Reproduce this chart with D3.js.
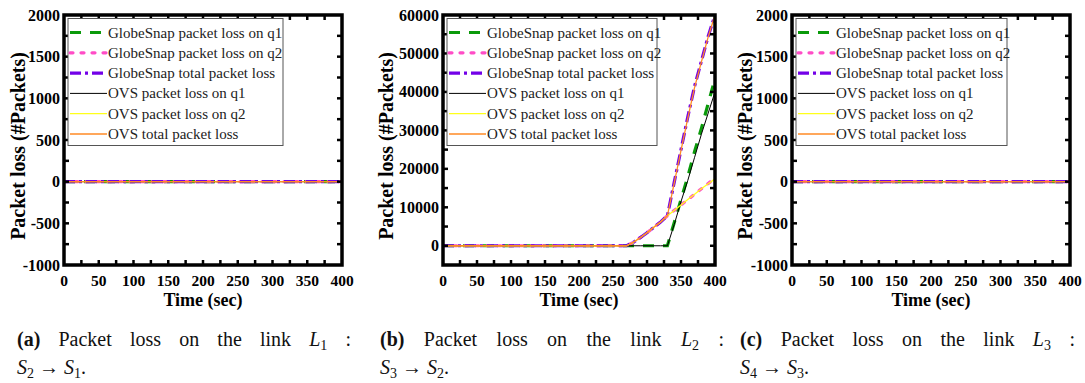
<!DOCTYPE html>
<html>
<head>
<meta charset="utf-8">
<script src="https://cdn.jsdelivr.net/npm/d3@7"></script>
<style>
  body { margin: 0; background: #fff; }
  svg { display: block; }
</style>
</head>
<body>
<svg></svg>
<script>
const width = 1085;
const height = 383;

// legend labels, in plotting order
const seriesNames = [
  "GlobeSnap packet loss on q1",
  "GlobeSnap packet loss on q2",
  "GlobeSnap total packet loss",
  "OVS packet loss on q1",
  "OVS packet loss on q2",
  "OVS total packet loss"
];

// links L1 and L3: no loss for any series
const timeFlat = [0, 50, 100, 150, 200, 250, 300, 350, 400];
const lossL1 = [0, 0, 0, 0, 0, 0, 0, 0, 0];
const lossL3 = [0, 0, 0, 0, 0, 0, 0, 0, 0];

// link L2
const timeL2  = [0, 50, 100, 150, 200, 250, 270, 280, 290, 300, 310, 320, 330, 340, 350, 360, 370, 380, 390, 400];
const gsQ1L2  = [0, 0, 0, 0, 0, 0, 0, 0, 0, 0, 0, 0, 0, 6000, 12000, 18000, 24500, 30500, 37000, 43500];
const gsQ2L2  = [0, 0, 0, 0, 0, 0, 0, 900, 2100, 3400, 4800, 6200, 7800, 9200, 10600, 12000, 13400, 14800, 16200, 17600];
const gsTotL2 = [0, 0, 0, 0, 0, 0, 0, 900, 2100, 3400, 4800, 6200, 7800, 16500, 25000, 33500, 41500, 48000, 54500, 60000];
const ovsQ1L2 = [0, 0, 0, 0, 0, 0, 0, 0, 0, 0, 0, 0, 0, 5500, 11500, 17000, 23000, 29000, 34500, 40000];
const ovsQ2L2 = [0, 0, 0, 0, 0, 0, 0, 900, 2100, 3400, 4800, 6200, 7800, 9200, 10600, 12000, 13400, 14800, 16100, 17400];
const ovsTotL2 = [0, 0, 0, 0, 0, 0, 0, 900, 2100, 3400, 4800, 6200, 7800, 16300, 24800, 33200, 41200, 47800, 54300, 60000];

const xTicks = [0, 50, 100, 150, 200, 250, 300, 350, 400];
const yTicksSmall = [-1000, -500, 0, 500, 1000, 1500, 2000];
const yTicksL2 = [0, 10000, 20000, 30000, 40000, 50000, 60000];

const styles = [
  { color: "#0a9a0a", w: 3.2, dash: "11,9" },
  { color: "#ff4cc6", w: 3.2, dash: "3,8" },
  { color: "#7300e8", w: 3.2, dash: "11,4,3,4" },
  { color: "#000000", w: 1 },
  { color: "#ffff1a", w: 1.3 },
  { color: "#ff8a24", w: 1.3 }
];

const axisFont = "'Liberation Serif', 'Times New Roman', serif";

const svg = d3.select("svg")
  .attr("width", width)
  .attr("height", height);

const panels = [
  {
    left: 64, right: 342, yDomain: [-1000, 2000], yTicks: yTicksSmall, yMinor: 250, ylabX: 18,
    times: timeFlat, series: [lossL1, lossL1, lossL1, lossL1, lossL1, lossL1],
    legendW: 215, tag: "(a)", link: "1", from: "2", to: "1", capX0: 17, capX1: 351
  },
  {
    left: 443, right: 715, yDomain: [-5000, 60000], yTicks: yTicksL2, yMinor: 5000, ylabX: 386,
    times: timeL2, series: [gsQ1L2, gsQ2L2, gsTotL2, ovsQ1L2, ovsQ2L2, ovsTotL2],
    legendW: 210, tag: "(b)", link: "2", from: "3", to: "2", capX0: 380, capX1: 724
  },
  {
    left: 792, right: 1070, yDomain: [-1000, 2000], yTicks: yTicksSmall, yMinor: 250, ylabX: 745,
    times: timeFlat, series: [lossL3, lossL3, lossL3, lossL3, lossL3, lossL3],
    legendW: 211, tag: "(c)", link: "3", from: "4", to: "3", capX0: 740, capX1: 1075
  }
];

const plotTop = 15, plotBottom = 265;

panels.forEach((p, pi) => {
  const g = svg.append("g");
  const x = d3.scaleLinear().domain([0, 400]).range([p.left, p.right]);
  const y = d3.scaleLinear().domain(p.yDomain).range([plotBottom, plotTop]);

  const clipId = "clip" + pi;
  g.append("clipPath").attr("id", clipId)
    .append("rect")
    .attr("x", p.left).attr("y", plotTop)
    .attr("width", p.right - p.left).attr("height", plotBottom - plotTop);

  // data lines
  const line = d3.line()
    .x((d, i) => x(p.times[i]))
    .y(d => y(d));

  const lines = g.append("g").attr("clip-path", `url(#${clipId})`);
  p.series.forEach((vals, si) => {
    const s = styles[si];
    lines.append("path")
      .datum(vals)
      .attr("d", line)
      .attr("fill", "none")
      .attr("stroke", s.color)
      .attr("stroke-width", s.w)
      .attr("stroke-dasharray", s.dash || null)
      .attr("stroke-linecap", si === 1 ? "round" : "butt");
  });

  // inward ticks on all four sides
  const xMinor = d3.range(25, 400, 25);
  const yMinorTicks = d3.range(p.yDomain[0] + p.yMinor, p.yDomain[1], p.yMinor);
  const tk = g.append("g").attr("stroke", "#000").attr("stroke-width", 2.5);
  xMinor.forEach(t => {
    tk.append("line").attr("x1", x(t)).attr("x2", x(t)).attr("y1", plotBottom).attr("y2", plotBottom - 5);
    tk.append("line").attr("x1", x(t)).attr("x2", x(t)).attr("y1", plotTop).attr("y2", plotTop + 5);
  });
  yMinorTicks.forEach(v => {
    tk.append("line").attr("x1", p.left).attr("x2", p.left + 5).attr("y1", y(v)).attr("y2", y(v));
    tk.append("line").attr("x1", p.right).attr("x2", p.right - 5).attr("y1", y(v)).attr("y2", y(v));
  });

  // frame
  g.append("rect")
    .attr("x", p.left).attr("y", plotTop)
    .attr("width", p.right - p.left).attr("height", plotBottom - plotTop)
    .attr("fill", "none")
    .attr("stroke", "#000")
    .attr("stroke-width", 3.5);

  // tick labels
  g.append("g").selectAll("text")
    .data(xTicks)
    .enter().append("text")
    .attr("x", d => x(d))
    .attr("y", 286)
    .attr("text-anchor", "middle")
    .attr("font-family", axisFont)
    .attr("font-weight", "bold")
    .attr("font-size", 15.5)
    .text(d => d);

  g.append("g").selectAll("text")
    .data(p.yTicks)
    .enter().append("text")
    .attr("x", p.left - 4)
    .attr("y", d => y(d) + 5.5)
    .attr("text-anchor", "end")
    .attr("font-family", axisFont)
    .attr("font-weight", "bold")
    .attr("font-size", 16)
    .text(d => d);

  // axis titles
  g.append("text")
    .attr("x", (p.left + p.right) / 2)
    .attr("y", 306)
    .attr("text-anchor", "middle")
    .attr("font-family", axisFont)
    .attr("font-weight", "bold")
    .attr("font-size", 18)
    .text("Time (sec)");

  g.append("text")
    .attr("transform", `translate(${p.ylabX + 7},${(plotTop + plotBottom) / 2 + 6}) rotate(-90)`)
    .attr("text-anchor", "middle")
    .attr("font-family", axisFont)
    .attr("font-weight", "bold")
    .attr("font-size", 20)
    .text("Packet loss (#Packets)");

  // legend
  const lx = p.left + 4, ly = 18.5;
  const lg = g.append("g");
  lg.append("rect")
    .attr("x", lx).attr("y", ly)
    .attr("width", p.legendW).attr("height", 127)
    .attr("fill", "#fff")
    .attr("stroke", "#555")
    .attr("stroke-width", 1);
  seriesNames.forEach((name, si) => {
    const s = styles[si];
    const ry = 32.5 + si * 20.3;
    lg.append("line")
      .attr("x1", lx + 2).attr("x2", lx + 39)
      .attr("y1", ry).attr("y2", ry)
      .attr("stroke", s.color)
      .attr("stroke-width", s.w)
      .attr("stroke-dasharray", s.dash || null)
      .attr("stroke-linecap", si === 1 ? "round" : "butt");
    lg.append("text")
      .attr("x", lx + 40)
      .attr("y", ry + 5)
      .attr("font-family", axisFont)
      .attr("font-size", 15)
      .attr("fill", "#222")
      .text(name);
  });

  // caption, first line justified
  const cap = svg.append("g")
    .attr("font-family", axisFont)
    .attr("font-size", 20)
    .attr("fill", "#111");
  const words = [
    t => t.attr("font-weight", "bold").text(p.tag),
    t => t.text("Packet"),
    t => t.text("loss"),
    t => t.text("on"),
    t => t.text("the"),
    t => t.text("link"),
    t => {
      t.append("tspan").attr("font-style", "italic").text("L");
      t.append("tspan").attr("font-size", 14).attr("dy", 4).text(p.link);
    },
    t => t.text(":")
  ];
  const nodes = words.map(w => {
    const t = cap.append("text").attr("y", 346);
    w(t);
    return t;
  });
  const widths = nodes.map(t => t.node().getComputedTextLength());
  const gap = (p.capX1 - p.capX0 - d3.sum(widths)) / (nodes.length - 1);
  let cx = p.capX0;
  nodes.forEach((t, i) => {
    t.attr("x", cx);
    cx += widths[i] + gap;
  });

  const l2 = cap.append("text").attr("x", p.capX0).attr("y", 374);
  l2.append("tspan").attr("font-style", "italic").text("S");
  l2.append("tspan").attr("font-size", 14).attr("dy", 4).text(p.from);
  l2.append("tspan").attr("dy", -4).text(" \u2192 ");
  l2.append("tspan").attr("font-style", "italic").text("S");
  l2.append("tspan").attr("font-size", 14).attr("dy", 4).text(p.to);
  l2.append("tspan").attr("dy", -4).text(".");
});
</script>
</body>
</html>
